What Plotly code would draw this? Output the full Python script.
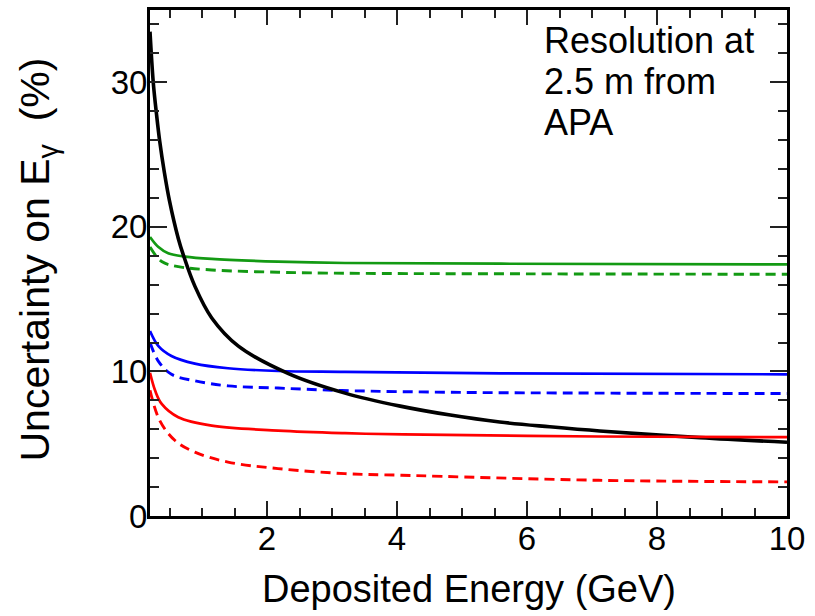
import plotly.graph_objects as go

E_black = [0.2, 0.25, 0.30, 0.35, 0.42, 0.50, 0.635, 0.71, 0.89, 1.15, 1.56, 2.33, 3.2, 4.05, 4.82, 5.58, 6.35, 7.12, 8.66, 10.0]
U_black = [33.5, 30.0, 27.8, 25.9, 23.8, 21.8, 19.2, 18.1, 15.9, 13.7, 11.75, 9.85, 8.5, 7.6, 6.98, 6.5, 6.17, 5.88, 5.42, 5.1]

E_green = [0.2, 0.33, 0.48, 0.74, 1.15, 2.17, 3.2, 5.6, 10.0]
U_green = [19.3, 18.6, 18.17, 17.94, 17.78, 17.6, 17.5, 17.45, 17.4]

E_green_d = [0.2, 0.38, 0.635, 1.15, 2.17, 3.2, 6.0, 10.0]
U_green_d = [18.6, 17.6, 17.25, 17.02, 16.86, 16.79, 16.75, 16.72]

E_blue = [0.2, 0.33, 0.53, 0.89, 1.4, 2.17, 3.2, 5.6, 10.0]
U_blue = [12.8, 11.75, 11.07, 10.54, 10.22, 10.03, 9.97, 9.87, 9.8]

E_blue_d = [0.2, 0.33, 0.53, 0.89, 1.4, 2.17, 3.15, 5.0, 7.1, 10.0]
U_blue_d = [12.0, 10.7, 9.8, 9.35, 9.0, 8.85, 8.68, 8.55, 8.5, 8.47]

E_red = [0.2, 0.28, 0.38, 0.635, 1.15, 2.17, 3.2, 4.1, 7.1, 10.0]
U_red = [9.9, 8.66, 7.75, 6.83, 6.25, 5.91, 5.73, 5.64, 5.5, 5.45]

E_red_d = [0.2, 0.35, 0.585, 0.89, 1.4, 2.17, 3.2, 4.07, 7.1, 10.0]
U_red_d = [8.7, 6.6, 5.22, 4.42, 3.73, 3.28, 2.93, 2.82, 2.47, 2.36]

note_lines = ["Resolution at", "2.5 m from", "APA"]
x_title = "Deposited Energy (GeV)"
y_title = "Uncertainty on E<sub>γ</sub>  (%)"

GREEN = "#139a13"
DASH = "10px,6px"

fig = go.Figure()
fig.add_trace(go.Scatter(x=E_green, y=U_green, mode="lines", line=dict(color=GREEN, width=2.7, shape="spline")))
fig.add_trace(go.Scatter(x=E_green_d, y=U_green_d, mode="lines", line=dict(color=GREEN, width=2.9, dash=DASH, shape="spline")))
fig.add_trace(go.Scatter(x=E_blue, y=U_blue, mode="lines", line=dict(color="#0000ff", width=2.7, shape="spline")))
fig.add_trace(go.Scatter(x=E_blue_d, y=U_blue_d, mode="lines", line=dict(color="#0000ff", width=2.9, dash=DASH, shape="spline")))
fig.add_trace(go.Scatter(x=E_black, y=U_black, mode="lines", line=dict(color="#000000", width=3.6, shape="spline")))
fig.add_trace(go.Scatter(x=E_red, y=U_red, mode="lines", line=dict(color="#ff0000", width=2.7, shape="spline")))
fig.add_trace(go.Scatter(x=E_red_d, y=U_red_d, mode="lines", line=dict(color="#ff0000", width=2.9, dash=DASH, shape="spline")))

tickfont = dict(family="Liberation Sans, Arial", size=33, color="black")

fig.update_xaxes(
    range=[0.2, 10], dtick=2, tick0=0, ticks="inside", ticklen=15, tickwidth=2, tickcolor="#222",
    minor=dict(dtick=0.5, tick0=0, ticks="inside", ticklen=8, tickwidth=2, tickcolor="#222"),
    showline=True, linecolor="black", linewidth=3, mirror="ticks", showgrid=False, zeroline=False,
    tickfont=tickfont, ticklabelstandoff=-9,
)
fig.update_yaxes(
    range=[0, 35], dtick=10, tick0=0, ticks="inside", ticklen=17, tickwidth=2, tickcolor="#222",
    minor=dict(dtick=2, tick0=0, ticks="inside", ticklen=9, tickwidth=2, tickcolor="#222"),
    showline=True, linecolor="black", linewidth=3, mirror="ticks", showgrid=False, zeroline=False,
    tickfont=tickfont, ticklabelstandoff=-7,
)

L, T, W, H = 150, 7, 637, 509
def px(xp):
    return (xp - L) / W
def py(yp):
    return 1 - (yp - T) / H

for txt, yp in zip(note_lines, [38, 79, 120]):
    fig.add_annotation(text=txt, xref="paper", yref="paper", x=px(542), y=py(yp),
                       xanchor="left", yanchor="middle", showarrow=False,
                       font=dict(family="Liberation Sans, Arial", size=36, color="black"))

fig.add_annotation(text=x_title, xref="paper", yref="paper", x=px(469), y=py(589),
                   xanchor="center", yanchor="middle", showarrow=False,
                   font=dict(family="Liberation Sans, Arial", size=38, color="black"))
fig.add_annotation(text=y_title, xref="paper", yref="paper", x=px(38), y=py(258),
                   xanchor="center", yanchor="middle", showarrow=False, textangle=-90,
                   font=dict(family="Liberation Sans, Arial", size=41, color="black"))

fig.update_layout(
    width=815, height=616, margin=dict(l=150, r=28, t=7, b=100),
    paper_bgcolor="white", plot_bgcolor="white", showlegend=False,
)
fig.write_html("out.html")
